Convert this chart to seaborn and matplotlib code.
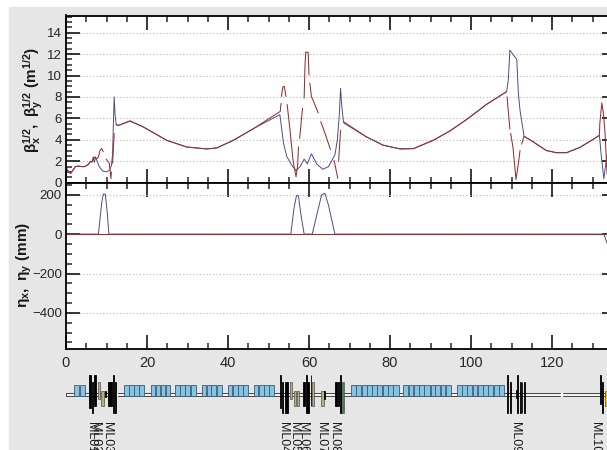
import matplotlib
matplotlib.use("Agg")
import matplotlib.pyplot as plt
from matplotlib.patches import Rectangle
from matplotlib.ticker import MultipleLocator
import seaborn as sns

# beta functions (s in m, value in m^1/2)
beta_x_s = [0, 0.5, 1.1, 1.6, 2.3, 3, 4, 4.6, 5.5, 6, 6.4, 6.7, 7, 7.3, 7.7, 8.2, 9, 10, 10.8, 11.2, 11.5, 11.7, 11.9, 12.1, 12.4, 13,
            15.8, 19.1, 24.9, 29.8, 34.7, 37.2, 41.3, 46.3, 52.8, 53.1, 53.7, 54.5, 55.7, 56.8, 57.8, 58.8, 59.6, 60.6,
            61.9, 63.4, 64.8, 66.4, 67, 67.5, 67.8, 68.1, 68.5, 74.2, 78.3, 82.5, 85.8, 90.7, 94.8, 98.9, 103.8, 108.8,
            109.2, 109.6, 110.5, 111.3, 111.7, 112.1, 113.1, 115.4, 118.6, 121.1, 123.6, 126.9, 129.8, 131.7, 132.2,
            132.8, 133.3, 134.2]
beta_x = [1.4, 1.1, 0.85, 1.1, 1.5, 1.55, 1.5, 1.5, 1.7, 2.0, 1.9, 2.4, 1.9, 2.4, 2.0, 1.5, 1.1, 1.0, 1.2, 1.6, 2.6, 5.5, 8.0, 6.4, 5.4, 5.35,
          5.76, 5.2, 3.95, 3.33, 3.15, 3.24, 3.95, 5.05, 6.35, 5.5, 3.7, 2.45, 1.65, 1.13, 1.5, 2.2, 1.75, 2.7,
          1.75, 1.25, 1.5, 2.6, 4.0, 6.45, 8.8, 7.1, 5.7, 4.27, 3.5, 3.15, 3.18, 3.96, 4.83, 5.89, 7.3, 8.5,
          9.56, 12.37, 11.9, 11.5, 8.3, 6.76, 4.33, 3.8, 3.0, 2.8, 2.8, 3.3, 3.96, 4.42, 2.4,
          0.37, 1.8, 4.0]

# the vertical one is drawn broken in the source, so it is kept as pieces
beta_y_parts = [
    ([0, 0.5, 1.1, 1.6, 2.3, 3, 4, 4.6, 5.5, 6, 6.5, 7, 7.5, 8, 8.4, 8.8, 9.2],
     [1.4, 1.1, 0.85, 1.1, 1.5, 1.55, 1.5, 1.5, 1.7, 1.95, 2.0, 2.4, 2.2, 2.4, 3.0, 3.2, 2.9]),
    ([9.9, 10.7, 11.1, 11.2], [2.2, 1.8, 0.37, 1.0]),
    ([11.5, 11.9], [1.8, 4.6]),
    ([12.4, 13, 15.8, 19.1, 24.9, 29.8, 34.7, 37.2, 41.3, 46.3, 52.9, 53.1],
     [5.4, 5.35, 5.76, 5.2, 3.95, 3.33, 3.15, 3.24, 3.95, 5.05, 6.65, 7.4]),
    ([53.2, 53.5, 53.9, 54.3], [8.05, 8.9, 9.0, 8.05]),
    ([54.6, 55.3, 55.8, 56.1, 56.8, 57.2, 57.4], [7.3, 4.95, 3.05, 1.95, 0.55, 1.66, 3.35]),
    ([57.7, 58.4], [4.15, 6.95]),
    ([58.8, 59, 59.2, 59.8, 60], [7.9, 10.85, 12.2, 12.15, 10.05]),
    ([60.2, 60.6, 62.3], [9.3, 8.05, 6.5]),
    ([62.9, 64.1, 65.3], [5.7, 4.45, 3.1]),
    ([66.2, 67.1], [2.1, 0.4]),
    ([67.3, 67.8], [2.0, 4.9]),
    ([68.5, 74.2, 78.3, 82.5, 85.8, 90.7, 94.8, 98.9, 103.8, 108.8], [5.6, 4.27, 3.5, 3.15, 3.18, 3.96, 4.83, 5.89, 7.3, 8.5]),
    ([108.9, 109.6], [8.0, 5.0]),
    ([109.8, 110.4, 111.1, 111.7, 112.1], [4.6, 3.2, 0.3, 1.8, 3.0]),
    ([112.5, 113.1, 115.4, 118.6, 121.1, 123.6, 126.9, 129.8, 131.7, 131.8, 132.3, 132.7, 133.1, 133.6, 134.2],
     [3.6, 4.33, 3.8, 3.0, 2.8, 2.8, 3.3, 3.96, 4.42, 5.5, 7.45, 6.45, 4.6, 0.8, 0.6]),
]

# dispersion (mm)
eta_x_s = [0, 8, 8.8, 9.2, 9.7, 10.2, 10.6, 55.5, 56.3, 56.9, 57.4, 57.9, 58.8, 60.8, 61.9, 63.1, 63.9, 64.8, 66.4, 132.8, 133.6, 134.2]
eta_x = [0, 0, 156, 203, 203, 105, 0, 0, 131, 195, 195, 113, 0, 0, 96, 198, 208, 148, 0, 0, -46, -70]
eta_y_s = [0, 134.2]
eta_y = [0, 0]

# lattice: (start, length, above, below)
dipole_start = [2.0, 3.5, 14.3, 15.6, 16.9, 18.1, 20.9, 22.1, 23.4, 24.6, 26.9, 28.2, 29.5, 30.8,
                33.5, 34.7, 35.9, 37.2, 39.9, 41.2, 42.5, 43.8, 46.4, 47.6, 48.9, 50.2,
                70.4, 71.7, 73.0, 74.3, 75.6, 76.9, 78.2, 79.5, 80.8,
                83.3, 84.6, 85.9, 87.2, 88.5, 90.0, 91.2, 92.5, 93.8,
                96.5, 97.8, 99.1, 100.4, 101.7, 103.0, 104.3, 105.6, 106.9]
dipole_len = [1.3, 1.1, 1.15, 1.15, 1.1, 1.2, 1.1, 1.15, 1.1, 1.2, 1.2, 1.2, 1.2, 1.2,
              1.1, 1.1, 1.2, 1.2, 1.2, 1.2, 1.2, 1.2, 1.1, 1.2, 1.2, 1.2,
              1.2, 1.2, 1.2, 1.2, 1.2, 1.2, 1.2, 1.2, 1.4,
              1.2, 1.2, 1.2, 1.2, 1.4, 1.1, 1.2, 1.2, 1.2,
              1.2, 1.2, 1.2, 1.2, 1.2, 1.2, 1.2, 1.2, 1.3]

quad_start = [5.8, 6.4, 6.8, 9.6, 10.3, 11.7, 12.0, 52.95, 53.3, 54.1, 58.4, 59.3, 59.6, 60.4, 63.8, 66.3, 67.1, 67.6,
              109.0, 109.6, 111.0, 111.3, 112.1, 112.5, 113.0, 131.9, 132.3]
quad_len = [0.3, 0.3, 0.7, 0.3, 1.0, 0.2, 0.35, 0.25, 0.4, 0.6, 0.6, 0.2, 0.5, 0.2, 0.2, 0.6, 0.4, 0.2,
            0.2, 0.2, 0.4, 0.2, 0.2, 0.2, 0.25, 0.2, 0.3]
quad_up = [19, 12, 19, 3, 12, 19, 12, 19, 12, 12, 12, 19, 12, 19, 3, 12, 12, 19,
           19, 12, 4, 19, 12, 12, 12, 19, 12]
quad_down = [-14, -19, -12, -3, -12, -19, -19, -14, -19, -19, -12, -19, -19, -12, -5, -12, -12, -19,
             -19, -19, -4, -19, -19, -19, -19, -10, -19]

sext_start = [8.0, 8.7, 55.2, 56.3, 57.0, 60.7, 63.0]
sext_len = [0.5, 0.7, 0.6, 0.5, 0.6, 0.6, 0.6]
sext_up = [12, 3, 12, 3, 3, 12, 3]
sext_down = [-5, -12, -5, -12, -12, -12, -12]

label_s = [6.2, 7.2, 10.1, 53.6, 56.4, 58.6, 63, 66.2, 110.9, 130.6]
label_txt = ["ML01", "ML02", "ML03", "ML04", "ML05", "ML06", "ML07", "ML08", "ML09", "ML10"]

W, H = 607, 450
BLUE = "#4c4c8a"
RED = "#96302f"

sns.set_style("white")
plt.rcParams["font.family"] = ["Liberation Sans", "DejaVu Sans"]
plt.rcParams["mathtext.fontset"] = "custom"
plt.rcParams["mathtext.rm"] = "Liberation Sans:bold"
plt.rcParams["mathtext.it"] = "Liberation Sans:bold"
plt.rcParams["mathtext.bf"] = "Liberation Sans:bold"

fig = plt.figure(figsize=(W / 100, H / 100), dpi=100, facecolor="white")
fig.add_artist(Rectangle((9 / W, 0), 1, 1 - 7 / H, transform=fig.transFigure, color="#e6e6e6", zorder=-5))


def px_axes(left, top, right, bottom):
    return fig.add_axes([left / W, 1 - bottom / H, (right - left) / W, (bottom - top) / H])


ax1 = px_axes(66, 15.5, 616, 182.7)
ax2 = px_axes(66, 182.7, 616, 349)
ax3 = px_axes(66, 370, 616, 450)

# beta panel
sns.lineplot(x=beta_x_s, y=beta_x, sort=False, estimator=None, color=BLUE, lw=0.7, ax=ax1)
for part_s, part_v in beta_y_parts:
    sns.lineplot(x=part_s, y=part_v, sort=False, estimator=None, color=RED, lw=0.75, ax=ax1)
ax1.set_ylim(0, 15.6)
ax1.yaxis.set_major_locator(MultipleLocator(2))
ax1.yaxis.set_minor_locator(MultipleLocator(0.5))

# dispersion panel
sns.lineplot(x=eta_x_s, y=eta_x, sort=False, estimator=None, color=BLUE, lw=0.7, ax=ax2)
sns.lineplot(x=eta_y_s, y=eta_y, sort=False, estimator=None, color=RED, lw=0.8, ax=ax2)
ax2.set_ylim(-583, 261)
ax2.yaxis.set_major_locator(MultipleLocator(200))
ax2.yaxis.set_minor_locator(MultipleLocator(50))

for ax in (ax1, ax2):
    ax.set_xlim(0, 135.8)
    ax.set_facecolor("white")
    ax.xaxis.set_major_locator(MultipleLocator(20))
    ax.xaxis.set_minor_locator(MultipleLocator(5))
    ax.grid(True, axis="y", which="major", color="#b5b5b5", ls=(0, (1, 2)), lw=0.8)
    ax.set_axisbelow(True)
    ax.tick_params(which="major", direction="in", length=10, width=1.1, top=True, bottom=True, left=True,
                   right=True, labelsize=9.5, pad=3, color="black", labelcolor="#262626")
    ax.tick_params(which="minor", direction="in", length=4, width=1.1, top=True, bottom=True, left=True, right=True)
    for spine in ax.spines.values():
        spine.set_visible(True)
        spine.set_color("black")
        spine.set_linewidth(1.3)
ax1.tick_params(axis="x", which="both", labelbottom=False)
ax2.tick_params(axis="x", which="major", pad=5, labelsize=10.5)

fig.text(33 / W, 1 - 100 / H, r"$\mathbf{\beta_x^{1/2},\ \beta_y^{1/2}\ (m^{1/2})}$", rotation=90,
         ha="center", va="center", fontsize=11, color="#1a1a1a")
fig.text(24 / W, 1 - 265 / H, r"$\mathbf{\eta_x,\ \eta_y\ (mm)}$", rotation=90,
         ha="center", va="center", fontsize=11, color="#1a1a1a")

# lattice strip
ax3.set_xlim(0, 135.8)
ax3.set_ylim(-56, 24)
ax3.axis("off")
ax3.bar([0], [3], width=[133], bottom=[-1.5], align="edge", color="#f2f2f2", edgecolor="#444444", lw=0.7, zorder=1)
ax3.bar([9.6, 12.4, 122.3], [3, 3, 3], width=[0.15, 0.15, 0.15], bottom=-1.5, align="edge", color="#555555", zorder=2)
ax3.bar(dipole_start, [11] * len(dipole_start), width=dipole_len, bottom=-1.7, align="edge",
        color="#86c4e6", edgecolor="#3f5a6e", lw=0.6, zorder=2)
ax3.bar(sext_start, [u - d for u, d in zip(sext_up, sext_down)], width=sext_len, bottom=sext_down, align="edge",
        color="#b8ac8e", edgecolor="#555048", lw=0.5, zorder=3)
ax3.bar(quad_start, [u - d for u, d in zip(quad_up, quad_down)], width=quad_len, bottom=quad_down, align="edge",
        color="black", edgecolor="black", lw=0.6, zorder=4)
ax3.bar([67.9], [31], width=[0.7], bottom=[-19], align="edge", color="#4f7a5c", edgecolor="#2f4a38", lw=0.4, zorder=3)
ax3.bar([133.0], [15], width=[2.0], bottom=[-12], align="edge", color="#f6c51c", edgecolor="#5a5020", lw=0.5, zorder=3)
for s, txt in zip(label_s, label_txt):
    ax3.text(s, -28, txt, rotation=270, ha="center", va="top", fontsize=9, color="#1a1a1a")

fig.savefig("out.png", dpi=100, facecolor=fig.get_facecolor())
